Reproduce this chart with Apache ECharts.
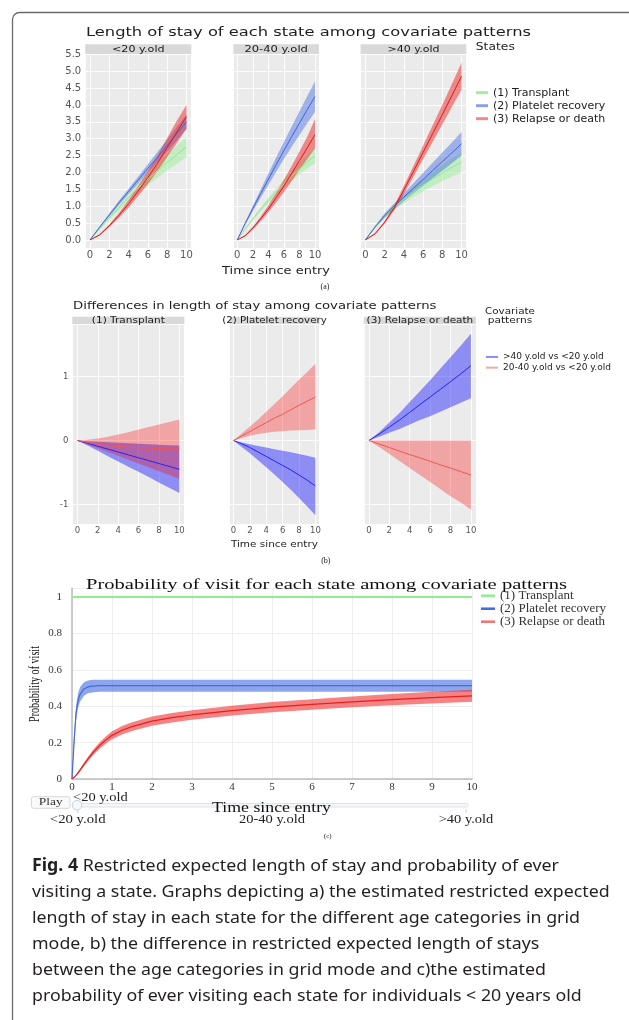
<!DOCTYPE html>
<html>
<head>
<meta charset="utf-8">
<script src="https://cdn.jsdelivr.net/npm/echarts@6.0.0/dist/echarts.min.js"></script>
<style>
html, body { margin: 0; padding: 0; background: #fff; }
#main { width: 629px; height: 1020px; }
</style>
</head>
<body>
<div id="main"></div>
<script>
// ---- labels ----
const ageGroups = ['<20 y.old', '20-40 y.old', '>40 y.old'];
const stateNames = ['(1) Transplant', '(2) Platelet recovery', '(3) Relapse or death'];
const diffNames = ['>40 y.old vs <20 y.old', '20-40 y.old vs <20 y.old'];
const sliderSteps = ['<20 y.old', '20-40 y.old', '>40 y.old'];

// ---- (a) length of stay, time 0..10 ----
const tA = [0, 1, 2, 3, 4, 5, 6, 7, 8, 9, 10];
// <20 y.old
const u20TransLo  = [0, 0.31, 0.60, 0.87, 1.14, 1.40, 1.62, 1.84, 2.06, 2.26, 2.45];
const u20TransMid = [0, 0.34, 0.66, 0.96, 1.26, 1.55, 1.80, 2.05, 2.30, 2.53, 2.75];
const u20TransHi  = [0, 0.37, 0.72, 1.05, 1.38, 1.70, 1.98, 2.26, 2.54, 2.80, 3.05];
const u20PlatLo   = [0, 0.36, 0.70, 1.04, 1.36, 1.68, 2.00, 2.31, 2.63, 2.95, 3.28];
const u20PlatMid  = [0, 0.38, 0.74, 1.10, 1.44, 1.78, 2.12, 2.46, 2.80, 3.15, 3.50];
const u20PlatHi   = [0, 0.40, 0.78, 1.16, 1.52, 1.88, 2.24, 2.61, 2.97, 3.35, 3.72];
const u20RelLo    = [0, 0.13, 0.38, 0.66, 0.96, 1.30, 1.66, 2.04, 2.46, 2.87, 3.30];
const u20RelMid   = [0, 0.15, 0.42, 0.73, 1.07, 1.45, 1.85, 2.27, 2.74, 3.20, 3.65];
const u20RelHi    = [0, 0.17, 0.46, 0.80, 1.18, 1.60, 2.04, 2.50, 3.02, 3.53, 4.00];
// 20-40 y.old
const mid40TransLo  = [0, 0.30, 0.58, 0.84, 1.09, 1.32, 1.54, 1.75, 1.94, 2.12, 2.27];
const mid40TransMid = [0, 0.32, 0.62, 0.90, 1.17, 1.42, 1.66, 1.89, 2.10, 2.31, 2.50];
const mid40TransHi  = [0, 0.34, 0.66, 0.96, 1.25, 1.52, 1.78, 2.03, 2.27, 2.50, 2.73];
const mid40PlatLo   = [0, 0.44, 0.85, 1.25, 1.63, 2.02, 2.40, 2.76, 3.11, 3.46, 3.80];
const mid40PlatMid  = [0, 0.48, 0.93, 1.37, 1.80, 2.23, 2.65, 3.06, 3.46, 3.86, 4.25];
const mid40PlatHi   = [0, 0.52, 1.01, 1.49, 1.97, 2.44, 2.90, 3.36, 3.81, 4.26, 4.70];
const mid40RelLo    = [0, 0.10, 0.31, 0.55, 0.82, 1.11, 1.42, 1.75, 2.08, 2.40, 2.72];
const mid40RelMid   = [0, 0.12, 0.35, 0.62, 0.92, 1.25, 1.60, 1.97, 2.35, 2.73, 3.12];
const mid40RelHi    = [0, 0.14, 0.39, 0.69, 1.03, 1.39, 1.78, 2.19, 2.62, 3.06, 3.58];
// >40 y.old
const o40TransLo  = [0, 0.37, 0.66, 0.89, 1.08, 1.27, 1.44, 1.60, 1.74, 1.88, 2.00];
const o40TransMid = [0, 0.40, 0.72, 0.98, 1.20, 1.42, 1.62, 1.81, 1.98, 2.15, 2.30];
const o40TransHi  = [0, 0.43, 0.78, 1.07, 1.32, 1.57, 1.80, 2.02, 2.22, 2.42, 2.60];
const o40PlatLo   = [0, 0.35, 0.66, 0.92, 1.15, 1.38, 1.60, 1.83, 2.05, 2.27, 2.50];
const o40PlatMid  = [0, 0.38, 0.72, 1.00, 1.27, 1.53, 1.79, 2.06, 2.32, 2.58, 2.85];
const o40PlatHi   = [0, 0.41, 0.78, 1.08, 1.39, 1.68, 1.98, 2.29, 2.59, 2.89, 3.20];
const o40RelLo    = [0, 0.16, 0.48, 0.88, 1.36, 1.87, 2.39, 2.90, 3.42, 3.94, 4.45];
const o40RelMid   = [0, 0.18, 0.52, 0.95, 1.48, 2.03, 2.59, 3.15, 3.71, 4.28, 4.85];
const o40RelHi    = [0, 0.20, 0.56, 1.02, 1.60, 2.19, 2.79, 3.40, 4.00, 4.62, 5.25];

// ---- (b) differences, time 0..10 ----
const tB = [0, 1, 2, 3, 4, 5, 6, 7, 8, 9, 10];
// (1) Transplant
const dTransOldLo  = [0, -0.08, -0.16, -0.245, -0.33, -0.41, -0.49, -0.57, -0.655, -0.74, -0.82];
const dTransOldMid = [0, -0.045, -0.09, -0.135, -0.18, -0.225, -0.27, -0.315, -0.36, -0.405, -0.45];
const dTransOldHi  = [0, -0.01, -0.018, -0.026, -0.035, -0.043, -0.05, -0.058, -0.066, -0.073, -0.08];
const dTransMidLo  = [0, -0.06, -0.12, -0.18, -0.24, -0.30, -0.36, -0.42, -0.48, -0.54, -0.60];
const dTransMidMid = [0, -0.03, -0.06, -0.08, -0.095, -0.105, -0.113, -0.12, -0.125, -0.128, -0.13];
const dTransMidHi  = [0, 0.01, 0.03, 0.06, 0.095, 0.13, 0.17, 0.21, 0.25, 0.29, 0.33];
// (2) Platelet recovery
const dPlatOldLo  = [0, -0.10, -0.20, -0.31, -0.42, -0.53, -0.65, -0.77, -0.90, -1.03, -1.17];
const dPlatOldMid = [0, -0.05, -0.11, -0.18, -0.25, -0.32, -0.39, -0.46, -0.54, -0.62, -0.71];
const dPlatOldHi  = [0, -0.03, -0.06, -0.085, -0.11, -0.135, -0.16, -0.185, -0.21, -0.24, -0.27];
const dPlatMidLo  = [0, 0.04, 0.075, 0.10, 0.12, 0.135, 0.145, 0.155, 0.16, 0.165, 0.17];
const dPlatMidMid = [0, 0.07, 0.14, 0.21, 0.28, 0.35, 0.41, 0.48, 0.55, 0.615, 0.68];
const dPlatMidHi  = [0, 0.11, 0.22, 0.33, 0.45, 0.57, 0.69, 0.82, 0.95, 1.07, 1.20];
// (3) Relapse or death
const dRelOldLo  = [0, 0.06, 0.12, 0.18, 0.25, 0.32, 0.38, 0.45, 0.52, 0.59, 0.66];
const dRelOldMid = [0, 0.10, 0.21, 0.32, 0.44, 0.56, 0.68, 0.80, 0.92, 1.04, 1.17];
const dRelOldHi  = [0, 0.13, 0.28, 0.43, 0.60, 0.77, 0.94, 1.12, 1.30, 1.48, 1.67];
const dRelMidLo  = [0, -0.10, -0.21, -0.32, -0.43, -0.54, -0.65, -0.76, -0.87, -0.97, -1.08];
const dRelMidMid = [0, -0.055, -0.11, -0.165, -0.22, -0.27, -0.325, -0.38, -0.43, -0.485, -0.54];
const dRelMidHi  = [0, 0, 0, 0, 0, 0, 0, 0, 0, 0, 0];

// ---- (c) probability of visit, <20 y.old ----
const tC = [0, 0.05, 0.1, 0.15, 0.2, 0.3, 0.4, 0.5, 0.6, 0.7, 0.85, 1, 1.25, 1.5, 2, 2.5, 3, 4, 5, 6, 7, 8, 9, 10];
const cTrans   = [1, 1, 1, 1, 1, 1, 1, 1, 1, 1, 1, 1, 1, 1, 1, 1, 1, 1, 1, 1, 1, 1, 1, 1];
const cPlatLo  = [0, 0.17, 0.32, 0.39, 0.425, 0.458, 0.471, 0.476, 0.478, 0.479, 0.48, 0.48, 0.48, 0.48, 0.48, 0.48, 0.48, 0.48, 0.48, 0.48, 0.48, 0.48, 0.48, 0.48];
const cPlatMid = [0, 0.20, 0.36, 0.43, 0.465, 0.495, 0.506, 0.511, 0.512, 0.513, 0.513, 0.513, 0.513, 0.513, 0.513, 0.513, 0.513, 0.513, 0.513, 0.513, 0.513, 0.513, 0.513, 0.513];
const cPlatHi  = [0, 0.23, 0.40, 0.47, 0.505, 0.532, 0.541, 0.545, 0.546, 0.546, 0.546, 0.546, 0.546, 0.546, 0.546, 0.546, 0.546, 0.546, 0.546, 0.546, 0.546, 0.546, 0.546, 0.546];
const cRelLo   = [0, 0.006, 0.016, 0.028, 0.041, 0.07, 0.098, 0.124, 0.147, 0.168, 0.195, 0.218, 0.245, 0.264, 0.293, 0.311, 0.326, 0.349, 0.367, 0.381, 0.394, 0.405, 0.415, 0.424];
const cRelMid  = [0, 0.008, 0.02, 0.034, 0.049, 0.08, 0.11, 0.138, 0.163, 0.186, 0.215, 0.24, 0.268, 0.288, 0.318, 0.337, 0.352, 0.376, 0.395, 0.41, 0.424, 0.436, 0.447, 0.457];
const cRelHi   = [0, 0.01, 0.024, 0.04, 0.057, 0.09, 0.122, 0.152, 0.179, 0.204, 0.235, 0.262, 0.291, 0.312, 0.343, 0.363, 0.378, 0.403, 0.423, 0.439, 0.454, 0.467, 0.479, 0.49];

const captionLines = [
    'Restricted expected length of stay and probability of ever',
    'visiting a state. Graphs depicting a) the estimated restricted expected',
    'length of stay in each state for the different age categories in grid',
    'mode, b) the difference in restricted expected length of stays',
    'between the age categories in grid mode and c)the estimated',
    'probability of ever visiting each state for individuals < 20 years old'
];

// ---- layout ----
const SANS = '"DejaVu Sans", sans-serif';
const SERIF = '"Liberation Serif", "Times New Roman", serif';

const aTop = 54, aH = 194.7;
const aPanels = [[85.2, 106.1], [233.4, 85.5], [360.6, 105.7]];
const bTop = 324.7, bH = 199.6;
const bPanels = [[72.3, 112.1], [229.4, 90.1], [363.8, 112.2]];
// approximate right end of each caption line in the figure
const captionEnds = [527, 612, 597, 500, 563, 613];

const aColors = [
    {line: '#98e698', fill: 'rgba(144,238,144,0.45)', key: '#a8eaa8'},
    {line: '#3d65e0', fill: 'rgba(65,105,225,0.45)', key: '#8aa2ea'},
    {line: '#e01818', fill: 'rgba(235,40,40,0.5)', key: '#ef8a8a'}
];
const bColors = [
    {line: '#2323ff', fill: 'rgba(0,0,255,0.4)', key: '#8c8cf2'},
    {line: '#f25555', fill: 'rgba(255,0,0,0.3)', key: '#f3a7a7'}
];
const cKeys = ['#90ee90', '#4169e1', '#f47272'];

const mctx = document.createElement('canvas').getContext('2d');
function measure(str, size, family, weight) {
    mctx.font = (weight || 'normal') + ' ' + size + 'px ' + family;
    return mctx.measureText(str).width;
}
// text squeezed/stretched to a given width
function label(str, x, y, w, size, family, o) {
    o = o || {};
    const sx = w ? w / measure(str, size, family, o.weight) : 1;
    return {
        type: 'text', x: x, y: y, rotation: o.rot || 0, scaleX: sx, silent: true, z: 20,
        style: {
            text: str, fontSize: size, fontFamily: family, fontWeight: o.weight || 'normal',
            fill: o.color || '#222', align: o.align || 'left', verticalAlign: 'middle',
            textAlign: o.align || 'left', textVerticalAlign: 'middle'
        }
    };
}

function pairs(xs, ys) { return xs.map((x, i) => [x, ys[i]]); }

// confidence ribbon: one polygon through the axis scales (upper edge then lower edge back)
function band(gi, xs, lo, hi, fill) {
    return {
        type: 'custom', xAxisIndex: gi, yAxisIndex: gi, silent: true, z: 2, animation: false,
        data: xs.map((x, i) => [x, lo[i], hi[i]]),
        encode: {x: 0, y: [1, 2]},
        renderItem: function (params, api) {
            if (params.dataIndex !== 0) return;
            const pts = [];
            for (let i = 0; i < xs.length; i++) pts.push(api.coord([xs[i], hi[i]]));
            for (let i = xs.length - 1; i >= 0; i--) pts.push(api.coord([xs[i], lo[i]]));
            return {type: 'polygon', shape: {points: pts}, style: {fill: fill}};
        }
    };
}
function meanLine(gi, xs, ys, color, name, width) {
    return {type: 'line', name: name, xAxisIndex: gi, yAxisIndex: gi, data: pairs(xs, ys), symbol: 'none',
            lineStyle: {color: color, width: width}, itemStyle: {color: color}, silent: true, z: 3, animation: false};
}

function multipleOf(v, step) { return Math.abs(v / step - Math.round(v / step)) < 1e-6; }

function facetX(gi, fs) {
    return {
        type: 'value', gridIndex: gi, min: -0.5, max: 10.5, splitNumber: 5, minInterval: 2, maxInterval: 2,
        axisLine: {show: false}, axisTick: {show: false},
        axisLabel: {fontFamily: SANS, fontSize: fs, color: '#555', margin: 2,
                    formatter: v => (v > -0.01 && multipleOf(v, 2)) ? String(Math.round(v)) : ''},
        splitLine: {show: true, lineStyle: {color: 'rgba(255,255,255,0.85)', width: 1}}
    };
}

const aSets = [
    [[u20TransLo, u20TransMid, u20TransHi], [u20PlatLo, u20PlatMid, u20PlatHi], [u20RelLo, u20RelMid, u20RelHi]],
    [[mid40TransLo, mid40TransMid, mid40TransHi], [mid40PlatLo, mid40PlatMid, mid40PlatHi], [mid40RelLo, mid40RelMid, mid40RelHi]],
    [[o40TransLo, o40TransMid, o40TransHi], [o40PlatLo, o40PlatMid, o40PlatHi], [o40RelLo, o40RelMid, o40RelHi]]
];
const bSets = [
    [[dTransOldLo, dTransOldMid, dTransOldHi], [dTransMidLo, dTransMidMid, dTransMidHi]],
    [[dPlatOldLo, dPlatOldMid, dPlatOldHi], [dPlatMidLo, dPlatMidMid, dPlatMidHi]],
    [[dRelOldLo, dRelOldMid, dRelOldHi], [dRelMidLo, dRelMidMid, dRelMidHi]]
];

const grids = [], xAxes = [], yAxes = [], series = [];

// (a)
aPanels.forEach((p, i) => {
    const gi = grids.length;
    grids.push({left: p[0], top: aTop, width: p[1], height: aH, show: true, backgroundColor: '#EBEBEB',
                borderWidth: 0, containLabel: false, outerBoundsMode: 'none'});
    xAxes.push(facetX(gi, 10));
    yAxes.push({
        type: 'value', gridIndex: gi, min: -0.26, max: 5.51, splitNumber: 11, minInterval: 0.5, maxInterval: 0.5,
        axisLine: {show: false}, axisTick: {show: false},
        axisLabel: {show: i === 0, fontFamily: SANS, fontSize: 10, color: '#555', margin: 4,
                    formatter: v => (v > -0.01 && multipleOf(v, 0.5)) ? v.toFixed(1) : ''},
        splitLine: {show: true, lineStyle: {color: 'rgba(255,255,255,0.85)', width: 1}}
    });
    aSets[i].forEach((s, j) => { series.push(band(gi, tA, s[0], s[2], aColors[j].fill)); });
    aSets[i].forEach((s, j) => { series.push(meanLine(gi, tA, s[1], aColors[j].line, stateNames[j], 1)); });
});

// (b)
bPanels.forEach((p, i) => {
    const gi = grids.length;
    grids.push({left: p[0], top: bTop, width: p[1], height: bH, show: true, backgroundColor: '#EBEBEB',
                borderWidth: 0, containLabel: false, outerBoundsMode: 'none'});
    xAxes.push(facetX(gi, 8.5));
    yAxes.push({
        type: 'value', gridIndex: gi, min: -1.31, max: 1.81, splitNumber: 3, minInterval: 1, maxInterval: 1,
        axisLine: {show: false}, axisTick: {show: false},
        axisLabel: {show: i === 0, fontFamily: SANS, fontSize: 8.5, color: '#555', margin: 4,
                    formatter: v => multipleOf(v, 1) ? String(Math.round(v) === 0 ? 0 : Math.round(v)) : ''},
        splitLine: {show: true, lineStyle: {color: 'rgba(255,255,255,0.85)', width: 1}}
    });
    bSets[i].forEach((s, j) => { series.push(band(gi, tB, s[0], s[2], bColors[j].fill)); });
    bSets[i].forEach((s, j) => { series.push(meanLine(gi, tB, s[1], bColors[j].line, diffNames[j], 1)); });
});

// (c)
const cg = grids.length;
grids.push({left: 72, top: 588, width: 400, height: 191, show: false, containLabel: false, outerBoundsMode: 'none'});
xAxes.push({
    type: 'value', gridIndex: cg, min: 0, max: 10, interval: 1,
    axisLine: {show: true, lineStyle: {color: '#bbb', width: 1.5}}, axisTick: {show: false},
    axisLabel: {fontFamily: SERIF, fontSize: 11, color: '#333', margin: 3},
    splitLine: {show: true, lineStyle: {color: '#eeeeee', width: 1}}
});
yAxes.push({
    type: 'value', gridIndex: cg, min: 0, max: 1.05, interval: 0.2,
    axisLine: {show: true, lineStyle: {color: '#bbb', width: 1.5}}, axisTick: {show: false},
    axisLabel: {fontFamily: SERIF, fontSize: 11, color: '#333', margin: 10,
                formatter: v => multipleOf(v, 0.2) ? String(Math.round(v * 10) / 10) : ''},
    splitLine: {show: true, lineStyle: {color: '#eeeeee', width: 1}}
});
series.push(band(cg, tC, cPlatLo, cPlatHi, 'rgba(65,105,225,0.6)'));
series.push(band(cg, tC, cRelLo, cRelHi, 'rgba(240,55,55,0.62)'));
series.push(meanLine(cg, tC, cTrans, '#90ee90', stateNames[0], 2));
series.push(meanLine(cg, tC, cPlatMid, '#4169e1', stateNames[1], 1.2));
series.push(meanLine(cg, tC, cRelMid, '#e61e1e', stateNames[2], 1.2));

// ---- text & decorations ----
const graphics = [];
graphics.push({type: 'rect', shape: {x: 12.5, y: 12.5, width: 720, height: 1100, r: 7},
               style: {fill: 'none', stroke: '#6a6a6a', lineWidth: 1.3}, silent: true});

// (a)
graphics.push(label('Length of stay of each state among covariate patterns', 86, 33, 445, 13, SANS, {color: '#1e1e1e'}));
const aStripW = [52.6, 63.5, 52];
aPanels.forEach((p, i) => {
    graphics.push({type: 'rect', shape: {x: p[0], y: 44.3, width: p[1], height: aTop - 44.3}, style: {fill: '#D9D9D9'}, silent: true});
    graphics.push(label(ageGroups[i], p[0] + p[1] / 2, 49.3, aStripW[i], 9, SANS, {align: 'center', color: '#1a1a1a'}));
});
graphics.push(label('Time since entry', 276, 271.7, 108, 10, SANS, {align: 'center', color: '#1e1e1e'}));
graphics.push(label('(a)', 325, 287, 0, 8, SERIF, {align: 'center'}));
graphics.push(label('States', 475.8, 47.7, 39, 10, SANS, {color: '#1e1e1e'}));

// (b)
graphics.push(label('Differences in length of stay among covariate patterns', 73, 306, 363.5, 11, SANS, {color: '#1e1e1e'}));
const bStripW = [73, 104.5, 106.6];
bPanels.forEach((p, i) => {
    graphics.push({type: 'rect', shape: {x: p[0], y: 316.7, width: p[1], height: bTop - 316.7}, style: {fill: '#D9D9D9'}, silent: true});
    graphics.push(label(stateNames[i], p[0] + p[1] / 2, 320.9, bStripW[i], 8, SANS, {align: 'center', color: '#1a1a1a'}));
});
graphics.push(label('Time since entry', 274.4, 544.3, 87, 8.5, SANS, {align: 'center', color: '#1e1e1e'}));
graphics.push(label('(b)', 325.8, 561, 0, 8, SERIF, {align: 'center'}));
graphics.push(label('Covariate', 510, 312, 50, 8.5, SANS, {align: 'center', color: '#1e1e1e'}));
graphics.push(label('patterns', 510, 320.5, 44.7, 8.5, SANS, {align: 'center', color: '#1e1e1e'}));

// (c)
graphics.push(label('Probability of visit for each state among covariate patterns', 86, 585, 481, 15, SERIF, {color: '#111'}));
graphics.push(label('Probability of visit', 35.4, 684, 76, 14, SERIF, {align: 'center', rot: Math.PI / 2, color: '#111'}));
graphics.push({type: 'rect', shape: {x: 31.5, y: 796.7, width: 38.5, height: 11.6, r: 2},
               style: {fill: '#fafafa', stroke: '#d8d8d8', lineWidth: 1}, silent: true, z: 5});
graphics.push(label('Play', 50.75, 802.5, 24, 11, SERIF, {align: 'center', color: '#333'}));
graphics.push(label(sliderSteps[0], 73, 798.3, 54.7, 12, SERIF, {color: '#222'}));
graphics.push({type: 'rect', shape: {x: 73.8, y: 803.5, width: 394.2, height: 3.5, r: 1.5},
               style: {fill: '#f4f6f8', stroke: '#dde3ea', lineWidth: 1}, silent: true, z: 5});
[77.7, 272, 466].forEach(x => {
    graphics.push({type: 'line', shape: {x1: x, y1: 809, x2: x, y2: 813}, style: {stroke: '#d0d0d0', lineWidth: 1}, silent: true, z: 5});
});
graphics.push({type: 'circle', shape: {cx: 77, cy: 805.2, r: 4.8},
               style: {fill: '#f6f8fa', stroke: '#c8d0d8', lineWidth: 1}, silent: true, z: 6});
graphics.push(label('Time since entry', 271.5, 808.3, 119, 15, SERIF, {align: 'center', color: '#111'}));
graphics.push(label(sliderSteps[0], 77.7, 820, 55.8, 12, SERIF, {align: 'center', color: '#222'}));
graphics.push(label(sliderSteps[1], 272, 820, 66, 12, SERIF, {align: 'center', color: '#222'}));
graphics.push(label(sliderSteps[2], 466, 820, 54.6, 12, SERIF, {align: 'center', color: '#222'}));
graphics.push(label('(c)', 327.7, 835.7, 0, 7, SERIF, {align: 'center'}));

// caption: pick the installed sans whose line proportions best fit the figure, one common squeeze
const capSize = 17;
const capFonts = ['"Liberation Sans"', '"Noto Sans"', '"Open Sans"', 'Lato', 'Roboto', 'Inter', '"DejaVu Sans"'];
function capWidths(fam) {
    return captionLines.map((ln, k) => measure(ln, capSize, fam) + (k === 0 ? measure('Fig. 4 ', capSize, fam, 'bold') : 0));
}
let CAP = capFonts[0], capScale = 1, bestErr = Infinity;
capFonts.forEach(fam => {
    const w = capWidths(fam);
    let num = 0, den = 0;
    w.forEach((wi, k) => { num += wi * (captionEnds[k] - 32); den += wi * wi; });
    const s = num / den;
    let err = 0;
    w.forEach((wi, k) => { err += Math.pow(wi * s - (captionEnds[k] - 32), 2); });
    if (err < bestErr) { bestErr = err; CAP = fam; capScale = s; }
});
captionLines.forEach((ln, k) => {
    const el = {
        type: 'text', x: 32, y: 866 + k * 26, scaleX: capScale, silent: true, z: 20,
        style: {text: ln, fontSize: capSize, fontFamily: CAP, fill: '#231f20',
                align: 'left', verticalAlign: 'middle', textAlign: 'left', textVerticalAlign: 'middle'}
    };
    if (k === 0) {
        el.style.text = '{b|Fig. 4} ' + ln;
        el.style.rich = {b: {fontWeight: 'bold', fontSize: capSize, fontFamily: CAP, fill: '#231f20'}};
    }
    graphics.push(el);
});

const option = {
    backgroundColor: '#ffffff',
    animation: false,
    grid: grids,
    xAxis: xAxes,
    yAxis: yAxes,
    legend: [
        {left: 476, top: 86.2, orient: 'vertical', padding: 0, itemGap: 0, itemWidth: 12, itemHeight: 3,
         icon: 'rect', selectedMode: false,
         textStyle: {fontFamily: SANS, fontSize: 11, color: '#222', lineHeight: 13},
         data: stateNames.map((s, j) => ({name: s, itemStyle: {color: aColors[j].key}}))},
        {left: 486, top: 351.6, orient: 'vertical', padding: 0, itemGap: 0, itemWidth: 12, itemHeight: 2,
         icon: 'rect', selectedMode: false,
         textStyle: {fontFamily: SANS, fontSize: 9, color: '#222', lineHeight: 10.7},
         data: diffNames.map((s, j) => ({name: s, itemStyle: {color: bColors[j].key}}))},
        {left: 481, top: 589.2, orient: 'vertical', padding: 0, itemGap: 0, itemWidth: 14, itemHeight: 2.5,
         icon: 'rect', selectedMode: false,
         textStyle: {fontFamily: SERIF, fontSize: 13, color: '#333', lineHeight: 11.7},
         data: stateNames.map((s, j) => ({name: s, itemStyle: {color: cKeys[j]}}))}
    ],
    graphic: {elements: graphics},
    series: series
};

const chart = echarts.init(document.getElementById('main'));
chart.setOption(option);
</script>
</body>
</html>
